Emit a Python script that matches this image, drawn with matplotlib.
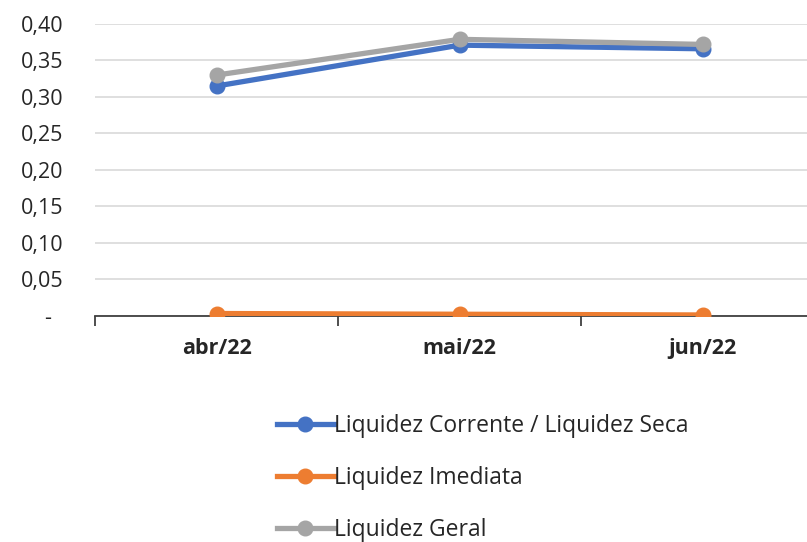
import matplotlib
matplotlib.use("Agg")
import matplotlib.pyplot as plt

# dados
meses = ["abr/22", "mai/22", "jun/22"]
liq_corrente = [0.315, 0.371, 0.366]
liq_imediata = [0.003, 0.002, 0.001]
liq_geral = [0.330, 0.379, 0.372]
y_ticks = [0.0, 0.05, 0.10, 0.15, 0.20, 0.25, 0.30, 0.35, 0.40]

plt.rcParams['font.family'] = ['Open Sans', 'DejaVu Sans']

fig = plt.figure(figsize=(8.07, 5.42), dpi=100)
ax = fig.add_axes([95.3/807, 1-315.7/542, (824-95.3)/807, (315.7-24)/542])

x = list(range(len(meses)))
ax.plot(x, liq_imediata, color='#ED7D31', lw=3.8, marker='o', ms=10.5,
        label='Liquidez Imediata', zorder=3)
ax.plot(x, liq_corrente, color='#4472C4', lw=3.8, marker='o', ms=10.5,
        label='Liquidez Corrente / Liquidez Seca', zorder=4)
ax.plot(x, liq_geral, color='#A5A5A5', lw=3.8, marker='o', ms=10.5,
        label='Liquidez Geral', zorder=5)

ax.set_xlim(-0.5, 2.5)
ax.set_ylim(0, 0.40)
ax.set_yticks(y_ticks)
ax.set_yticklabels(['-  '] + [f"{v:.2f}".replace('.', ',') for v in y_ticks[1:]],
                   fontsize=15.5, color='#262626')
ax.tick_params(axis='y', length=0, pad=23)
ax.grid(axis='y', color='#D9D9D9', lw=1.2)
ax.set_axisbelow(True)

ax.set_xticks([-0.5, 0.5, 1.5, 2.5])
ax.set_xticklabels([])
ax.set_xticks(x, minor=True)
ax.set_xticklabels(meses, minor=True, fontsize=15.5, fontweight='bold', color='#262626')
ax.tick_params(axis='x', which='major', length=7, width=1.3, color='#404040', direction='out')
ax.tick_params(axis='x', which='minor', length=0, pad=16)

for s in ['top', 'right', 'left']:
    ax.spines[s].set_visible(False)
ax.spines['bottom'].set_color('#404040')
ax.spines['bottom'].set_linewidth(1.3)

handles, labels = ax.get_legend_handles_labels()
ordem = [1, 0, 2]
fig.legend([handles[i] for i in ordem], [labels[i] for i in ordem],
           loc='upper left', bbox_to_anchor=(256/807, 1-393/542),
           frameon=False, fontsize=16.5, labelspacing=1.22,
           handlelength=2.5, handletextpad=0.0, labelcolor='#262626')

fig.savefig("out.png", dpi=100)
